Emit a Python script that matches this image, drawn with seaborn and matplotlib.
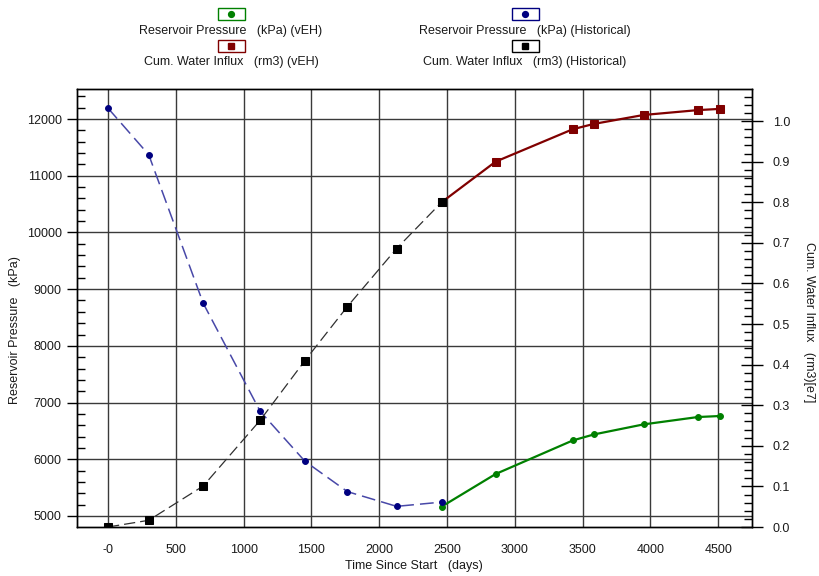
import matplotlib
matplotlib.use("Agg")
import matplotlib.pyplot as plt
from matplotlib.ticker import MultipleLocator, FuncFormatter
from matplotlib.patches import Rectangle
from matplotlib.lines import Line2D
import pandas as pd
import seaborn as sns

# Historical observations
hist_days = [0, 300, 702, 1122, 1452, 1765, 2128, 2460]
hist_pressure = [12190, 11370, 8750, 6845, 5965, 5430, 5170, 5245]
hist_influx = [0.0, 0.0165, 0.101, 0.263, 0.410, 0.543, 0.686, 0.800]

# vEH forecast
veh_days = [2460, 2858, 3428, 3583, 3949, 4350, 4512]
veh_pressure = [5165, 5740, 6333, 6438, 6615, 6745, 6763]
veh_influx = [0.800, 0.900, 0.980, 0.993, 1.015, 1.027, 1.030]

legend_labels = [
    "Reservoir Pressure   (kPa) (vEH)",
    "Cum. Water Influx   (rm3) (vEH)",
    "Reservoir Pressure   (kPa) (Historical)",
    "Cum. Water Influx   (rm3) (Historical)",
]

sns.set_style("white")
plt.rcParams["font.family"] = ["Liberation Sans", "DejaVu Sans"]
plt.rcParams["font.size"] = 9
TXT = "#1a1a1a"

hist = pd.DataFrame({"days": hist_days, "pressure": hist_pressure, "influx": hist_influx})
veh = pd.DataFrame({"days": veh_days, "pressure": veh_pressure, "influx": veh_influx})

W, H = 819, 576
fig = plt.figure(figsize=(W / 100, H / 100), dpi=100)
ax = fig.add_axes([77 / W, 1 - 527 / H, 675 / W, 438 / H])
ax2 = ax.twinx()

# Pressure on the left axis
sns.lineplot(data=hist, x="days", y="pressure", ax=ax, sort=False, estimator=None,
             color="#4848a8", lw=1.1, marker="o", markersize=4.2,
             markerfacecolor="#000080", markeredgecolor="#000080", zorder=6)
ax.lines[-1].set_dashes((9, 4))
sns.lineplot(data=veh, x="days", y="pressure", ax=ax, sort=False, estimator=None,
             color="#008000", lw=1.6, marker="o", markersize=4.2,
             markerfacecolor="#008000", markeredgecolor="#008000", zorder=5)

# Water influx on the right axis
sns.lineplot(data=hist, x="days", y="influx", ax=ax2, sort=False, estimator=None,
             color="#303030", lw=0.9, marker="s", markersize=5.3,
             markerfacecolor="black", markeredgecolor="black", zorder=6)
ax2.lines[-1].set_dashes((9, 4))
sns.lineplot(data=veh, x="days", y="influx", ax=ax2, sort=False, estimator=None,
             color="#800000", lw=1.6, marker="s", markersize=5.3,
             markerfacecolor="#800000", markeredgecolor="#800000", zorder=5)

ax.set_xlim(-229, 4749)
ax.set_ylim(4806, 12529)
ax2.set_ylim(0, 1.079)

ax.xaxis.set_major_locator(MultipleLocator(500))
ax.xaxis.set_minor_locator(MultipleLocator(100))
ax.yaxis.set_major_locator(MultipleLocator(1000))
ax.yaxis.set_minor_locator(MultipleLocator(200))
ax2.yaxis.set_major_locator(MultipleLocator(0.1))
ax2.yaxis.set_minor_locator(MultipleLocator(0.02))

ax.xaxis.set_major_formatter(FuncFormatter(lambda v, p: "-0" if v == 0 else f"{v:.0f}"))
ax.yaxis.set_major_formatter(FuncFormatter(lambda v, p: f"{v:.0f}"))
ax2.yaxis.set_major_formatter(FuncFormatter(lambda v, p: f"{v:.1f}"))

ax.grid(True, which="major", color="#3a3a3a", lw=1.0)
ax.set_axisbelow(True)

ax.tick_params(axis="x", which="major", direction="out", length=8, width=1, color="black",
               labelsize=9, labelcolor=TXT, pad=4)
ax.tick_params(axis="x", which="minor", direction="in", length=7, width=1, color="black")
ax.tick_params(axis="y", which="major", direction="out", length=7, width=1, color="black",
               labelsize=9, labelcolor=TXT, pad=4)
ax.tick_params(axis="y", which="minor", direction="in", length=6, width=1, color="black")
ax2.tick_params(axis="y", which="major", direction="inout", length=16, width=1, color="black",
                labelsize=9, labelcolor=TXT, pad=7)
ax2.tick_params(axis="y", which="minor", direction="in", length=6, width=1, color="black")

for a in (ax, ax2):
    for s in a.spines.values():
        s.set_color("black")
        s.set_linewidth(1)

ax.set_xlabel("Time Since Start   (days)", color=TXT, fontsize=9)
ax.set_ylabel("Reservoir Pressure   (kPa)", color=TXT, fontsize=9)
ax2.set_ylabel("Cum. Water Influx   (rm3)[e7]", color=TXT, fontsize=9, rotation=270)
ax.xaxis.set_label_coords(0.499, -0.075)
ax.yaxis.set_label_coords(-0.083, 0.45)
ax2.yaxis.set_label_coords(1.093, 0.468)


# Legend: a framed marker swatch above each label
def legend_entry(cx, box_top, text_y, edge, marker, label):
    bw, bh = 27, 12
    fig.add_artist(Rectangle(((cx - bw / 2) / W, 1 - (box_top + bh) / H), bw / W, bh / H,
                             transform=fig.transFigure, facecolor="white",
                             edgecolor=edge, lw=1.0))
    fig.add_artist(Line2D([cx / W], [1 - (box_top + bh / 2) / H], transform=fig.transFigure,
                          marker=marker, color=edge, markersize=4.2 if marker == "o" else 5,
                          linestyle="none"))
    fig.text(cx / W, 1 - text_y / H, label, ha="center", va="center", color=TXT, fontsize=9)


legend_entry(231, 8, 31, "#008000", "o", legend_labels[0])
legend_entry(231, 40, 62, "#800000", "s", legend_labels[1])
legend_entry(525, 8, 31, "#000080", "o", legend_labels[2])
legend_entry(525, 40, 62, "black", "s", legend_labels[3])

fig.savefig("out.png", dpi=100, facecolor="white")
